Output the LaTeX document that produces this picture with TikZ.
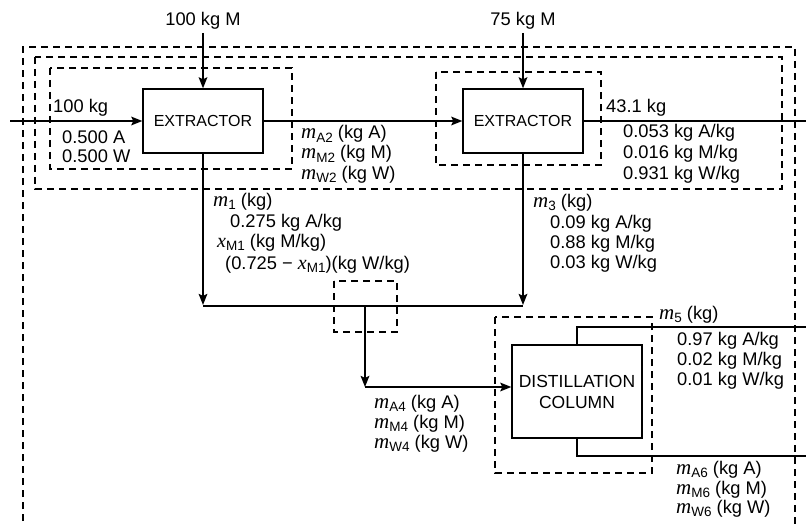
\documentclass[tikz,border=0pt]{standalone}
\usepackage{fontspec}
\setmainfont{Liberation Sans}
\newfontfamily\serfont{Liberation Serif}
\usetikzlibrary{arrows.meta}
\newcommand\subtxt[1]{\raisebox{-0.35ex}{\fontsize{13.5}{13.5}\selectfont #1}}
\newcommand\vm[1]{{\serfont\itshape\fontsize{21}{20}\selectfont m}\subtxt{#1}}
\newcommand\vx[1]{{\serfont\itshape\fontsize{20}{20}\selectfont x}\subtxt{#1}}
\begin{document}
\begin{tikzpicture}[x=1pt,y=-1pt,
  lbl/.style={anchor=base west,inner sep=0pt,text height=13pt,text depth=3.5pt,font=\fontsize{18.3}{20}\selectfont},
  clbl/.style={anchor=base,inner sep=0pt,text height=13pt,text depth=3.5pt,font=\fontsize{18.3}{20}\selectfont},
  unit/.style={draw,line width=1.3pt,minimum width=120pt,minimum height=64pt,align=center,font=\fontsize{16}{21}\selectfont,inner sep=0pt},
  flow/.style={line width=2.8pt},
  arr/.style={flow,-{Stealth[length=11pt,width=8.5pt,inset=2pt]}},
  bnd/.style={line width=1.1pt,dash pattern=on 7pt off 5pt}]
\useasboundingbox (0,0) rectangle (806,524);
\clip (0,0) rectangle (806,524);
\fill[white] (0,0) rectangle (806,524);
% boundaries
\draw[bnd] (23,545) -- (23,47) -- (795,47) -- (795,545);
\draw[bnd] (35,57) rectangle (782,189);
\draw[bnd] (50,68) rectangle (292,169);
\draw[bnd] (436,72) rectangle (601,165);
\draw[bnd] (334,281) rectangle (397,332);
\draw[bnd] (495,317) rectangle (652,473);
% units
\node[unit] (ext1) at (203,121) {EXTRACTOR};
\node[unit] (ext2) at (523,121) {EXTRACTOR};
\node[unit,minimum width=130pt,minimum height=93pt,font=\fontsize{17.5}{21}\selectfont] (dist) at (577,391.5) {DISTILLATION\\COLUMN};
% coordinates
\coordinate (feed) at (10,121);
\coordinate (inM1) at (203,33);
\coordinate (inM2) at (523,33);
\coordinate (out2) at (810,121);
\coordinate (j1) at (203,306);
\coordinate (j3) at (523,306);
\coordinate (jm) at (365,306);
\coordinate (j4) at (365,387);
\coordinate (out5) at (810,327);
\coordinate (out6) at (810,456);
% flows
\draw[arr] (feed) -- (ext1.west);
\draw[arr] (inM1) -- (ext1.north);
\draw[arr] (inM2) -- (ext2.north);
\draw[arr] (ext1.east) -- (ext2.west);
\draw[flow] (ext2.east) -- (out2);
\draw[flow] (j1) -- (j3);
\draw[arr] (ext1.south) -- ([yshift=1pt]j1);
\draw[arr] (ext2.south) -- ([yshift=1pt]j3);
\draw[arr] (jm) -- (j4);
\draw[arr] (j4) -- (dist.west |- j4);
\draw[flow] (dist.north) |- (out5);
\draw[flow] (dist.south) |- (out6);
% labels
\node[clbl] (tM1) at (203,26) {100 kg M};
\node[clbl] (tM2) at (523,26) {75 kg M};
\node[lbl] (f0) at (53,113) {100 kg};
\node[lbl] (f1) at (62,143) {0.500 A};
\node[lbl] (f2) at (62,163) {0.500 W};
\node[lbl] (s2a) at (301,139) {\vm{A2} (kg A)};
\node[lbl] (s2b) at (301,159) {\vm{M2} (kg M)};
\node[lbl] (s2c) at (301,179) {\vm{W2} (kg W)};
\node[lbl] (e0) at (606,113) {43.1 kg};
\node[lbl] (e1) at (623,138) {0.053 kg A/kg};
\node[lbl] (e2) at (623,158) {0.016 kg M/kg};
\node[lbl] (e3) at (623,179) {0.931 kg W/kg};
\node[lbl] (r0) at (213,206) {\vm{1} (kg)};
\node[lbl] (r1) at (230,227) {0.275 kg A/kg};
\node[lbl] (r2) at (217,247.5) {\vx{M1} (kg M/kg)};
\node[lbl] (r3) at (225,269.5) {(0.725 − \vx{M1})(kg W/kg)};
\node[lbl] (q0) at (533,207) {\vm{3} (kg)};
\node[lbl] (q1) at (550,228) {0.09 kg A/kg};
\node[lbl] (q2) at (550,248) {0.88 kg M/kg};
\node[lbl] (q3) at (550,268) {0.03 kg W/kg};
\node[lbl] (p0) at (659,319) {\vm{5} (kg)};
\node[lbl] (p1) at (677,345) {0.97 kg A/kg};
\node[lbl] (p2) at (677,365) {0.02 kg M/kg};
\node[lbl] (p3) at (677,385) {0.01 kg W/kg};
\node[lbl] (g1) at (374,408) {\vm{A4} (kg A)};
\node[lbl] (g2) at (374,428) {\vm{M4} (kg M)};
\node[lbl] (g3) at (374,448) {\vm{W4} (kg W)};
\node[lbl] (b1) at (676,474) {\vm{A6} (kg A)};
\node[lbl] (b2) at (676,494) {\vm{M6} (kg M)};
\node[lbl] (b3) at (676,513) {\vm{W6} (kg W)};
\end{tikzpicture}
\end{document}
